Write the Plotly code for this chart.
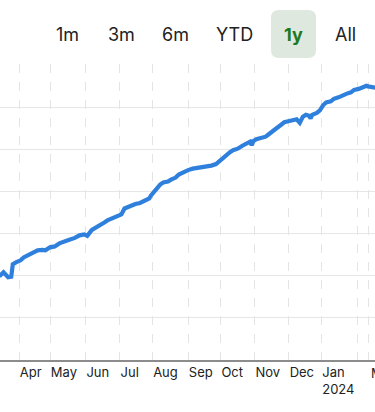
import plotly.graph_objects as go

# ---- data ----
dates = [
    "2023-03-14", "2023-03-16", "2023-03-20", "2023-03-22", "2023-03-23", "2023-03-27",
    "2023-03-28", "2023-03-30", "2023-04-04", "2023-04-06", "2023-04-12", "2023-04-19",
    "2023-04-24", "2023-04-26", "2023-05-01", "2023-05-04", "2023-05-09", "2023-05-12",
    "2023-05-17", "2023-05-23", "2023-05-26", "2023-05-31", "2023-06-01", "2023-06-02",
    "2023-06-07", "2023-06-12", "2023-06-14", "2023-06-19", "2023-06-21", "2023-06-26",
    "2023-06-29", "2023-07-04", "2023-07-06", "2023-07-10", "2023-07-13", "2023-07-17",
    "2023-07-20", "2023-07-25", "2023-07-28", "2023-07-31", "2023-08-02", "2023-08-04",
    "2023-08-08", "2023-08-10", "2023-08-15", "2023-08-17", "2023-08-22", "2023-08-24",
    "2023-08-29", "2023-09-01", "2023-09-06", "2023-09-08", "2023-09-13", "2023-09-15",
    "2023-09-20", "2023-09-22", "2023-09-27", "2023-09-29", "2023-10-03", "2023-10-05",
    "2023-10-10", "2023-10-12", "2023-10-17", "2023-10-20", "2023-10-24", "2023-10-27",
    "2023-10-30", "2023-10-31", "2023-11-02", "2023-11-07", "2023-11-10", "2023-11-14",
    "2023-11-17", "2023-11-21", "2023-11-24", "2023-11-28", "2023-12-04", "2023-12-06",
    "2023-12-08", "2023-12-12", "2023-12-14", "2023-12-18", "2023-12-20", "2023-12-21",
    "2023-12-22", "2023-12-27", "2023-12-29", "2024-01-02", "2024-01-04", "2024-01-09",
    "2024-01-11", "2024-01-16", "2024-01-19", "2024-01-23", "2024-01-26", "2024-01-30",
    "2024-02-02", "2024-02-06", "2024-02-08", "2024-02-09", "2024-03-01", "2024-03-05",
    "2024-03-07", "2024-03-08",
]
values = [
    101.7, 100.5, 104.0, 100.5, 98.1, 98.7,
    113.5, 115.8, 118.2, 121.7, 125.3, 130.0,
    130.6, 130.0, 133.6, 134.7, 138.3, 140.7,
    142.4, 144.8, 147.8, 148.9, 147.8, 147.2,
    154.3, 157.2, 160.2, 163.1, 165.5, 167.8,
    170.2, 172.6, 179.7, 181.4, 183.2, 185.0,
    186.2, 188.5, 191.5, 195.0, 199.8, 204.5,
    208.0, 210.4, 211.6, 213.9, 216.3, 219.9,
    222.8, 225.2, 226.9, 227.5, 228.1, 228.7,
    229.3, 230.5, 232.3, 235.8, 238.2, 242.3,
    246.4, 248.8, 250.6, 254.1, 256.5, 258.9,
    254.7, 259.4, 261.8, 263.0, 264.8, 267.7,
    271.3, 274.8, 279.0, 281.9, 283.7, 284.9,
    285.5, 281.3, 288.4, 290.8, 289.6, 286.6,
    290.8, 293.1, 296.1, 302.0, 305.5, 306.7,
    309.7, 311.5, 313.2, 315.6, 317.4, 320.3,
    321.5, 323.3, 325.1, 325.1, 324.5, 323.9,
    323.3, 322.7,
]
# first trading day of each month (ticks / vertical grid)
tick_dates = [
    "2023-04-03", "2023-05-01", "2023-06-01", "2023-07-03", "2023-08-01", "2023-09-01",
    "2023-10-02", "2023-11-01", "2023-12-01", "2024-01-01", "2024-02-01", "2024-03-01",
]
tick_labels = ["Apr", "May", "Jun", "Jul", "Aug", "Sep", "Oct", "Nov", "Dec",
               "Jan<br>2024", "", ""]
edge_label = "Mar"          # label of the last tick, cut by the right edge
edge_label_date = "2024-03-01"
# days with no data (gap before March)
gap_days = [
    "2024-02-12", "2024-02-13", "2024-02-14", "2024-02-15", "2024-02-16",
    "2024-02-19", "2024-02-20", "2024-02-21", "2024-02-22", "2024-02-23",
    "2024-02-26", "2024-02-27", "2024-02-28", "2024-02-29",
]
range_buttons = ["1m", "3m", "6m", "YTD", "1y", "All"]
active_button = "1y"
button_x = [67.5, 121.7, 175, 234.3, 293, 345.5]

W, H = 375, 412
MT, MB = 64, 52
FONT = "Inter, Roboto, Liberation Sans, sans-serif"
fig = go.Figure()
fig.add_trace(go.Scatter(
    x=dates, y=values, mode="lines",
    line=dict(color="#2f80dd", width=4.2, shape="linear"),
    hoverinfo="skip", showlegend=False,
))

fig.update_layout(
    width=W, height=H,
    margin=dict(l=0, r=0, t=MT, b=MB),
    paper_bgcolor="white", plot_bgcolor="white",
    font=dict(family=FONT, color="#222"),
    xaxis=dict(
        type="date",
        range=["2023-03-15 18:00", "2024-03-07 12:00"],
        rangebreaks=[dict(bounds=["sat", "mon"]),
                     dict(values=gap_days, dvalue=86400000)],
        tickmode="array", tickvals=tick_dates, ticktext=tick_labels,
        ticklabelposition="outside right", tickangle=0,
        tickfont=dict(size=13, color="#222"),
        ticks="", showgrid=True, gridcolor="#e4e4e4", griddash="dash", gridwidth=1,
        showline=True, linecolor="#8c8c8c", linewidth=1.5,
        zeroline=False, fixedrange=True,
    ),
    yaxis=dict(
        range=[0, 351], dtick=50, tick0=0,
        showticklabels=False, ticks="",
        showgrid=True, gridcolor="#e6e6e6", gridwidth=1.2,
        zeroline=False, fixedrange=True,
    ),
)


def px(x):
    return x / W


def py(y):
    return (H - MB - y) / (H - MT - MB)


# last tick label (partly outside the window, like the reference)
fig.add_annotation(
    x=edge_label_date, y=py(373), xref="x", yref="paper",
    text=edge_label, showarrow=False, xanchor="left", yanchor="middle",
    xshift=1, font=dict(size=13, color="#222", family=FONT),
)

# range selector look-alike
bw, bh = 45, 48
for label, cx in zip(range_buttons, button_x):
    active = label == active_button
    if active:
        x0, x1 = cx - bw / 2 + 0.5, cx + bw / 2 + 0.5
        y0, y1 = 10, 10 + bh
        r = 8
        path = (f"M {px(x0 + r)} {py(y0)} L {px(x1 - r)} {py(y0)} "
                f"Q {px(x1)} {py(y0)} {px(x1)} {py(y0 + r)} "
                f"L {px(x1)} {py(y1 - r)} Q {px(x1)} {py(y1)} {px(x1 - r)} {py(y1)} "
                f"L {px(x0 + r)} {py(y1)} Q {px(x0)} {py(y1)} {px(x0)} {py(y1 - r)} "
                f"L {px(x0)} {py(y0 + r)} Q {px(x0)} {py(y0)} {px(x0 + r)} {py(y0)} Z")
        fig.add_shape(type="path", path=path, xref="paper", yref="paper",
                      fillcolor="#dfe8df", line=dict(width=0), layer="below")
    fig.add_annotation(
        x=px(cx), y=py(34), xref="paper", yref="paper",
        text=f"<b>{label}</b>" if active else label, showarrow=False,
        xanchor="center", yanchor="middle",
        font=dict(size=18, color="#1f7a1f" if active else "#222", family=FONT),
    )

fig.write_html(
    "out.html",
    config={"displayModeBar": False},
    post_script="document.body.style.margin='0';document.body.style.overflow='hidden';",
)
